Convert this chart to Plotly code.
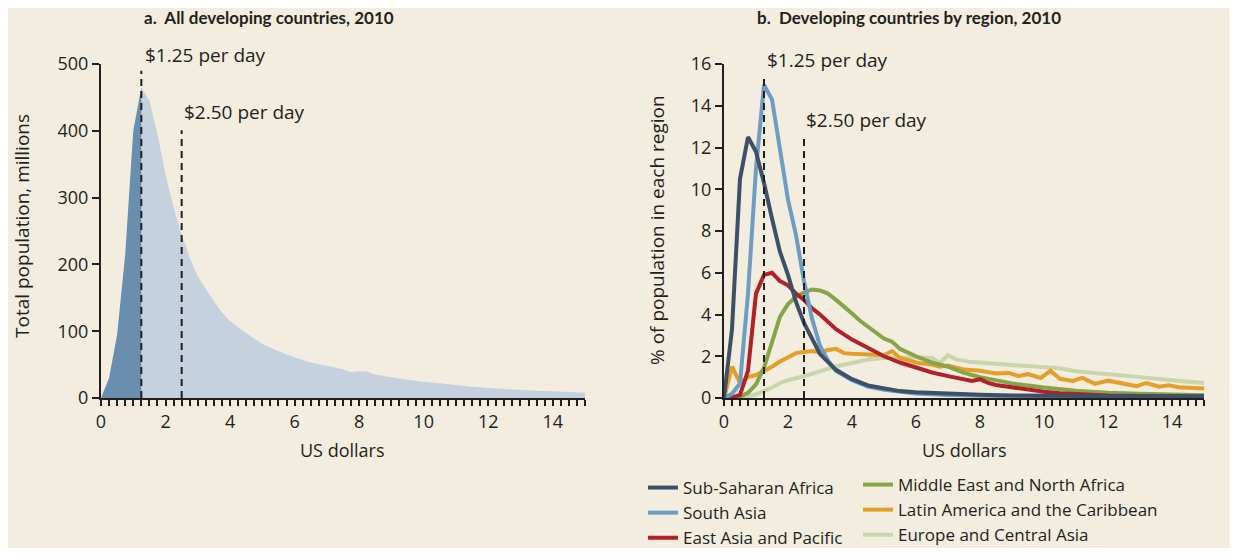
import plotly.graph_objects as go

# panel a: total population (millions) by daily income
pop_x = [0, 0.25, 0.5, 0.75, 1.0, 1.25, 1.5, 1.75, 2.0, 2.25, 2.5, 2.75, 3.0, 3.25, 3.5, 3.75,
         4.0, 4.5, 5.0, 5.5, 6.0, 6.5, 7.0, 7.5, 7.75, 8.0, 8.25, 8.5, 9.0, 9.5, 10.0, 10.5,
         11.0, 11.5, 12.0, 12.5, 13.0, 13.5, 14.0, 14.5, 15.0]
pop_y = [0, 30, 95, 215, 400, 465, 445, 395, 335, 285, 245, 210, 182, 163, 145, 128,
         115, 97, 81, 70, 61, 53, 48, 43, 39, 40, 39.5, 35, 31, 27.5, 24.5, 22,
         19.5, 17, 15, 13.5, 12, 11, 10, 9, 8]

# panel b: % of population in each region
ssa_x = [0, 0.25, 0.5, 0.75, 1.0, 1.25, 1.5, 1.75, 2.0, 2.25, 2.5, 2.75, 3.0, 3.5, 4.0, 4.5,
         5.0, 5.5, 6.0, 6.5, 7.0, 8.0, 9, 10, 11, 12, 13, 14, 15]
ssa_y = [0, 3.3, 10.5, 12.5, 11.8, 10.3, 8.6, 7.0, 5.9, 4.6, 3.6, 2.8, 2.1, 1.35, 0.9, 0.6,
         0.45, 0.33, 0.27, 0.23, 0.2, 0.15, 0.12, 0.1, 0.1, 0.09, 0.08, 0.08, 0.08]

sa_x = [0, 0.25, 0.5, 0.75, 1.0, 1.25, 1.5, 1.75, 2.0, 2.25, 2.5, 2.75, 3.0, 3.25, 3.5, 4.0,
        4.5, 5.0, 5.5, 6, 7, 8, 9, 10, 11, 12, 13, 14, 15]
sa_y = [0, 0.2, 0.7, 5.0, 11.0, 15.0, 14.3, 12.0, 9.5, 7.8, 5.6, 3.8, 2.5, 1.8, 1.3, 0.85,
        0.55, 0.4, 0.3, 0.22, 0.14, 0.1, 0.07, 0.05, 0.04, 0.03, 0.03, 0.03, 0.03]

eap_x = [0, 0.25, 0.5, 0.75, 1.0, 1.25, 1.5, 1.75, 2.0, 2.25, 2.5, 2.75, 3.0, 3.5, 4.0, 4.5,
         5.0, 5.5, 6.0, 6.5, 7.0, 7.5, 7.75, 8.0, 8.25, 8.5, 9, 9.5, 10, 10.5, 11, 12, 13, 14, 15]
eap_y = [0, 0.02, 0.15, 1.3, 5.0, 5.9, 6.0, 5.6, 5.4, 5.0, 4.7, 4.3, 4.0, 3.3, 2.8, 2.4,
         2.0, 1.7, 1.45, 1.22, 1.05, 0.9, 0.82, 0.9, 0.72, 0.62, 0.5, 0.4, 0.3, 0.23, 0.18, 0.12,
         0.1, 0.08, 0.07]

mena_x = [0, 0.5, 0.75, 1.0, 1.25, 1.5, 1.75, 2.0, 2.25, 2.5, 2.75, 3.0, 3.25, 3.5, 3.75, 4.0,
          4.25, 4.5, 4.75, 5.0, 5.25, 5.5, 6.0, 6.5, 7.0, 7.5, 8, 8.5, 9, 9.5, 10, 11, 12, 13, 14, 15]
mena_y = [0, 0.05, 0.25, 0.65, 1.45, 2.6, 3.9, 4.5, 4.85, 5.05, 5.2, 5.15, 5.0, 4.7, 4.4, 4.05,
          3.7, 3.4, 3.15, 2.85, 2.7, 2.35, 2.0, 1.7, 1.5, 1.2, 1.0, 0.85, 0.7, 0.6, 0.5, 0.35,
          0.25, 0.2, 0.15, 0.13]

lac_x = [0, 0.25, 0.5, 0.75, 1.0, 1.25, 1.5, 1.75, 2.0, 2.25, 2.5, 2.75, 3.0, 3.25, 3.5, 3.75,
         4.0, 4.5, 5.0, 5.25, 5.5, 6.0, 6.5, 6.75, 7.0, 7.5, 8.0, 8.5, 8.9, 9.2, 9.5, 9.9, 10.2,
         10.5, 10.9, 11.2, 11.6, 12.0, 12.5, 12.9, 13.2, 13.6, 13.9, 14.2, 15]
lac_y = [0, 1.5, 0.72, 1.0, 1.1, 1.28, 1.5, 1.75, 1.95, 2.15, 2.2, 2.25, 2.18, 2.3, 2.35, 2.15,
         2.12, 2.1, 2.05, 2.25, 1.92, 1.7, 1.6, 1.5, 1.55, 1.36, 1.3, 1.18, 1.2, 1.05, 1.15, 0.96,
         1.3, 0.92, 0.82, 0.96, 0.68, 0.83, 0.68, 0.57, 0.72, 0.54, 0.61, 0.52, 0.46]

eca_x = [0, 0.5, 0.75, 1.0, 1.25, 1.5, 1.75, 2.0, 2.5, 3.0, 3.5, 4.0, 4.5, 5.0, 5.5, 6.0, 6.5,
         6.75, 7.0, 7.25, 7.75, 8.5, 9.5, 10.5, 11, 12, 13, 14, 15]
eca_y = [0, 0.03, 0.08, 0.18, 0.32, 0.5, 0.72, 0.85, 1.04, 1.3, 1.52, 1.68, 1.84, 1.92, 1.95,
         1.95, 1.92, 1.68, 2.05, 1.85, 1.72, 1.65, 1.52, 1.42, 1.28, 1.12, 1.0, 0.85, 0.72]

thresholds = [1.25, 2.5]
threshold_labels = ["$1.25 per day", "$2.50 per day"]

BG = "#F2EDDF"
INK = "#231F20"
FONT = "Open Sans"
# the page puts an 8px margin round the figure, so paper is 1222 x 540
OFF, PW, PH = 8, 1222, 540


def px_x(p):
    return (p - OFF) / PW


def px_y(p):
    return 1 - (p - OFF) / PH


fig = go.Figure()

# panel a: dark area below $1.25, light area above
cut = pop_x.index(thresholds[0])
fig.add_trace(go.Scatter(x=pop_x[cut:], y=pop_y[cut:], fill="tozeroy", mode="none",
                         fillcolor="#C5D1DF", showlegend=False, xaxis="x", yaxis="y"))
fig.add_trace(go.Scatter(x=pop_x[:cut + 1], y=pop_y[:cut + 1], fill="tozeroy", mode="none",
                         fillcolor="#6A8FAE", showlegend=False, xaxis="x", yaxis="y"))

regions = [
    ("Europe and Central Asia", eca_x, eca_y, "#C9D5AB", "legend2", 3),
    ("Latin America and the Caribbean", lac_x, lac_y, "#E59F26", "legend2", 2),
    ("Middle East and North Africa", mena_x, mena_y, "#86A548", "legend2", 1),
    ("East Asia and Pacific", eap_x, eap_y, "#B02227", "legend", 3),
    ("South Asia", sa_x, sa_y, "#6E9DC3", "legend", 2),
    ("Sub-Saharan Africa", ssa_x, ssa_y, "#3D5068", "legend", 1),
]
for name, xs, ys, col, leg, rank in regions:
    fig.add_trace(go.Scatter(x=xs, y=ys, name=name, mode="lines", legendgroup=name,
                             line=dict(color=col, width=4), legend=leg, legendrank=rank,
                             xaxis="x2", yaxis="y2"))

# threshold lines
line_tops = {"x": [490, 401], "x2": [15.4, 12.5]}
for ax, ay in [("x", "y"), ("x2", "y2")]:
    for t, top in zip(thresholds, line_tops[ax]):
        fig.add_shape(type="line", xref=ax, yref=ay, x0=t, x1=t, y0=0, y1=top,
                      line=dict(color=INK, width=2, dash="7px,5px"))

axis_common = dict(showline=True, linecolor=INK, linewidth=2, showgrid=False, zeroline=False,
                   ticks="outside", tickcolor=INK, tickwidth=1.5, automargin=False,
                   tickfont=dict(family=FONT, size=18, color=INK))
xaxis_common = dict(axis_common, range=[0, 15], dtick=2, tick0=0, ticklen=6,
                    minor=dict(dtick=0.25, tick0=0, ticks="outside", ticklen=6,
                               tickcolor=INK, tickwidth=1.5))

legend_common = dict(xanchor="left", yanchor="top", bgcolor="rgba(0,0,0,0)",
                     font=dict(family=FONT, size=17, color=INK),
                     traceorder="grouped", tracegroupgap=0)

fig.update_layout(
    autosize=True,
    paper_bgcolor=BG, plot_bgcolor=BG,
    margin=dict(l=0, r=0, t=0, b=0, autoexpand=False),
    font=dict(family=FONT, size=18, color=INK),
    xaxis=dict(xaxis_common, domain=[px_x(101), px_x(585)], anchor="y"),
    yaxis=dict(axis_common, range=[0, 500], dtick=100, ticklen=7,
               domain=[px_y(398), px_y(64)], anchor="x"),
    xaxis2=dict(xaxis_common, domain=[px_x(724), px_x(1204)], anchor="y2"),
    yaxis2=dict(axis_common, range=[0, 16], dtick=2, ticklen=7,
                domain=[px_y(398), px_y(64)], anchor="x2"),
    legend=dict(legend_common, x=px_x(643), y=px_y(470)),
    legend2=dict(legend_common, x=px_x(858), y=px_y(467)),
)

ann = [
    ("<b>a.  All developing countries, 2010</b>", 269, 17, 0, 17, "center", "Lato"),
    ("<b>b.  Developing countries by region, 2010</b>", 909, 17, 0, 17, "center", "Lato"),
    ("Total population, millions", 22, 226, -90, 19, "center", FONT),
    ("% of population in each region", 657, 230, -90, 19, "center", FONT),
    ("US dollars", 342, 450, 0, 18, "center", FONT),
    ("US dollars", 964, 450, 0, 18, "center", FONT),
    (threshold_labels[0], 143, 55, 0, 19, "left", FONT),
    (threshold_labels[1], 182, 112, 0, 19, "left", FONT),
    (threshold_labels[0], 765, 60, 0, 19, "left", FONT),
    (threshold_labels[1], 804, 120, 0, 19, "left", FONT),
]
for text, x, y, ang, size, anchor, fam in ann:
    fig.add_annotation(text=text, x=px_x(x), y=px_y(y), xref="paper", yref="paper",
                       showarrow=False, textangle=ang, xanchor=anchor, yanchor="middle",
                       font=dict(family=fam, size=size, color=INK))

fig.write_html("out.html")
